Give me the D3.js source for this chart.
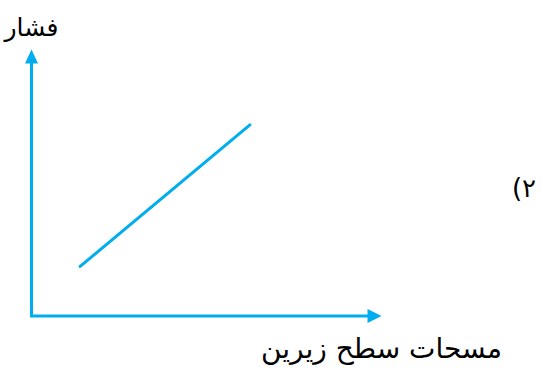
<!DOCTYPE html>
<html><head><meta charset="utf-8">
<script src="https://cdn.jsdelivr.net/npm/d3@7"></script>
<style>body{margin:0;background:#fff}svg{display:block}</style>
</head><body>
<script>
const xLabel = "مسحات سطح زیرین";
const yLabel = "فشار";
const figTag = "(۲";
const lineX = [1.39, 6.24];
const lineY = [1.86, 7.17];

const W = 541, H = 373;
const color = "#00AEEF";
const svg = d3.select("body").append("svg").attr("width", W).attr("height", H);
const x = d3.scaleLinear().domain([0, 10]).range([31.5, 381.5]);
const y = d3.scaleLinear().domain([0, 10]).range([316, 49.5]);

// axes lines
svg.append("line").attr("x1", x(0)).attr("y1", y(0)).attr("x2", x(0)).attr("y2", y(10) + 12)
  .attr("stroke", color).attr("stroke-width", 3);
svg.append("line").attr("x1", x(0) - 1.5).attr("y1", y(0)).attr("x2", x(10) - 12).attr("y2", y(0))
  .attr("stroke", color).attr("stroke-width", 3);
// arrowheads
svg.append("path").attr("fill", color)
  .attr("d", `M${x(0)},${y(10)} L${x(0)-6.5},${y(10)+14} L${x(0)+6.5},${y(10)+14} Z`);
svg.append("path").attr("fill", color)
  .attr("d", `M${x(10)},${y(0)} L${x(10)-14},${y(0)-7} L${x(10)-14},${y(0)+7} Z`);

// data line
const pts = lineX.map((v, i) => [v, lineY[i]]);
svg.append("path").datum(pts)
  .attr("d", d3.line().x(d => x(d[0])).y(d => y(d[1])))
  .attr("fill", "none").attr("stroke", color).attr("stroke-width", 3).attr("stroke-linecap", "round");

const font = "'DejaVu Sans', sans-serif";
svg.append("text").attr("x", 31.5).attr("y", 36).attr("text-anchor", "middle")
  .attr("font-family", font).attr("font-size", 25).attr("fill", "#000").text(yLabel);
svg.append("text").attr("x", 381.5).attr("y", 358).attr("text-anchor", "middle")
  .attr("font-family", font).attr("font-size", 28).attr("fill", "#000").text(xLabel);
svg.append("text").attr("x", 524).attr("y", 197).attr("text-anchor", "middle")
  .attr("direction", "ltr").style("unicode-bidi", "bidi-override")
  .attr("font-family", font).attr("font-size", 26).attr("fill", "#000").text(figTag);
</script>
</body></html>
